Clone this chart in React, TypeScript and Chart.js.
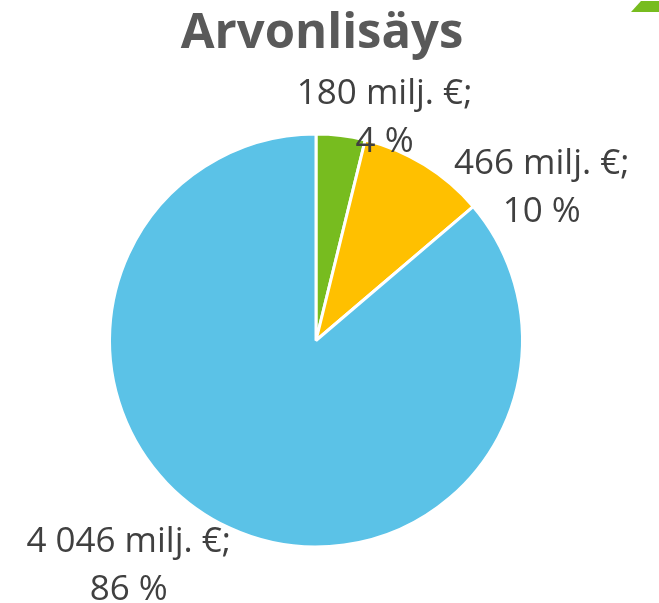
import React, { useEffect, useRef } from "react";
import { Chart, registerables } from "chart.js";

Chart.register(...registerables);

const TITLE = "Arvonlisäys";
const categories = ["A", "B", "C"];
const values = [180, 466, 4046];
const percents = [4, 10, 86];
const valueLabels = ["180 milj. €;", "466 milj. €;", "4 046 milj. €;"];
const colors = ["#77BC1F", "#FFC000", "#5BC2E7"];

// label anchor offsets relative to pie centre, in units of the radius (style)
const labelOffsets = [
  [0.332, -1.144],
  [1.093, -0.807],
  [-0.907, 1.022],
];

const overlayPlugin = {
  id: "overlay",
  afterDraw(chart: any) {
    const ctx = chart.ctx as CanvasRenderingContext2D;
    const meta = chart.getDatasetMeta(0);
    const arc0: any = meta.data[0];
    if (!arc0) return;
    const cx = arc0.x;
    const cy = arc0.y;
    const r = arc0.outerRadius;
    ctx.save();
    // decoration top-right
    ctx.fillStyle = "#77BC1F";
    ctx.beginPath();
    ctx.moveTo(641, 1);
    ctx.lineTo(659, 1);
    ctx.lineTo(659, 12);
    ctx.lineTo(631, 12);
    ctx.closePath();
    ctx.fill();
    // title
    ctx.fillStyle = "#595959";
    ctx.font = "bold 49px 'Open Sans'";
    ctx.textAlign = "center";
    ctx.textBaseline = "alphabetic";
    ctx.fillText(TITLE, 322, 48);
    // labels
    ctx.fillStyle = "#404040";
    ctx.font = "35px 'Open Sans'";
    const lineH = 48;
    values.forEach((v, i) => {
      const [ox, oy] = labelOffsets[i];
      const x = cx + ox * r;
      const y = cy + oy * r;
      ctx.fillText(valueLabels[i], x, y);
      ctx.fillText(percents[i] + " %", x, y + lineH);
    });
    ctx.restore();
  },
};

export default function App() {
  const ref = useRef<HTMLCanvasElement | null>(null);
  useEffect(() => {
    document.body.style.margin = "0";
    const chart = new Chart(ref.current!, {
      type: "pie",
      data: {
        labels: categories,
        datasets: [
          {
            data: values,
            backgroundColor: colors,
            borderColor: "#FFFFFF",
            borderWidth: 3,
          },
        ],
      },
      options: {
        animation: false,
        responsive: false,
        events: [],
        layout: { padding: { left: 108, right: 135, top: 132, bottom: 54 } },
        plugins: {
          legend: { display: false },
          tooltip: { enabled: false },
          title: { display: false },
        },
      },
      plugins: [overlayPlugin],
    });
    return () => chart.destroy();
  }, []);
  return (
    <div style={{ position: "absolute", left: 0, top: 0, width: 659, height: 603, background: "#fff" }}>
      <canvas ref={ref} width={659} height={603} />
    </div>
  );
}
